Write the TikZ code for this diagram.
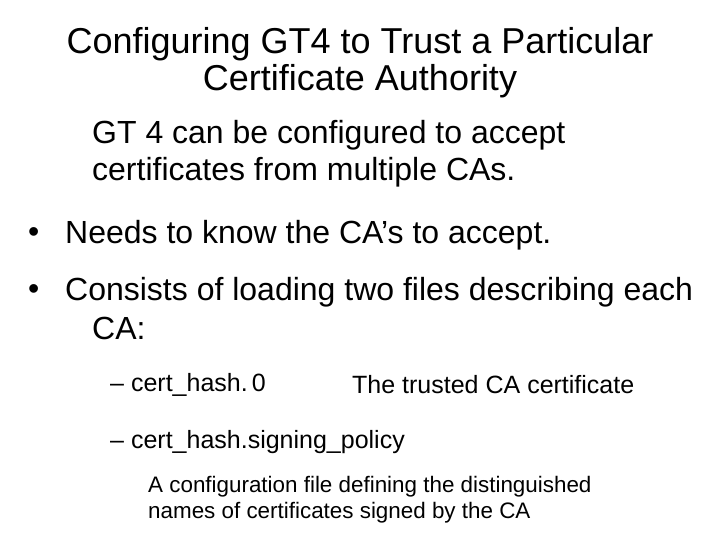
\documentclass[tikz,border=0pt]{standalone}
\usepackage{fontspec}
\setmainfont{Liberation Sans}
\begin{document}
\begin{tikzpicture}[x=1pt,y=-1pt,
  txt/.style={anchor=west,inner sep=0pt},
  big/.style={txt,font=\fontsize{32}{38}\selectfont},
  mid/.style={txt,font=\fontsize{25}{30}\selectfont},
  small/.style={txt,font=\fontsize{22.4}{27}\selectfont}]
\useasboundingbox (0,0) rectangle (720,540);
\node[inner sep=0pt,font=\fontsize{36}{37}\selectfont,align=center] (title) at (360,63)
  {Configuring GT4 to Trust a Particular\\Certificate Authority};
\node[big] (l1) at (65,135) {\hspace{27pt}GT 4 can be configured to accept};
\node[big] (l2) at (92,172) {certificates from multiple CAs.};
\node[big] (b1) at (28,235) {•};
\node[big] (t1) at (65,235) {Needs to know the CA’s to accept.};
\node[big] (b2) at (28,292) {•};
\node[big] (t2) at (65,292) {Consists of loading two files describing each};
\node[big] (t3) at (92,328) {CA:};
\node[mid] (s1) at (110,385) {– cert\_hash.\,0};
\node[mid] (s1d) at (352,385) {The trusted CA certificate};
\node[mid] (s2) at (110,442) {– cert\_hash.signing\_policy};
\node[small] (d1) at (148,487) {A configuration file defining the distinguished};
\node[small] (d2) at (148,513) {names of certificates signed by the CA};
\end{tikzpicture}
\end{document}
